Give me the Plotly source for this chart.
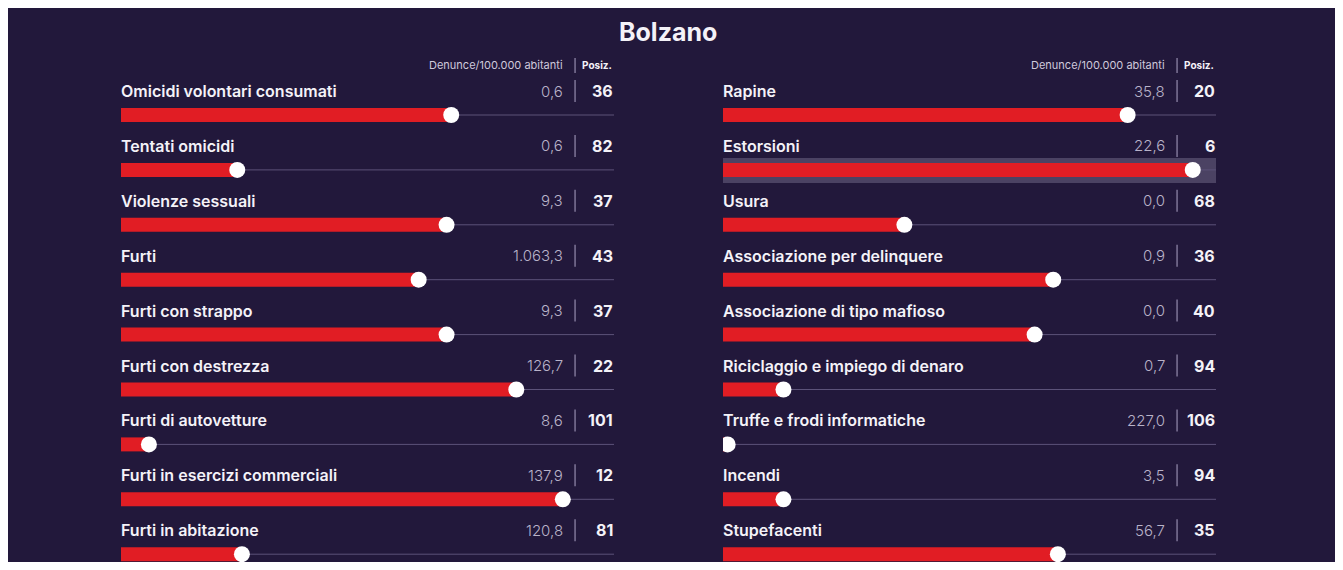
import plotly.graph_objects as go

# ---------------- data ----------------
title = "Bolzano"
header_value = "Denunce/100.000 abitanti"
header_pos = "Posiz."
n_provinces = 106

left_labels = ["Omicidi volontari consumati", "Tentati omicidi", "Violenze sessuali", "Furti",
               "Furti con strappo", "Furti con destrezza", "Furti di autovetture",
               "Furti in esercizi commerciali", "Furti in abitazione"]
left_values = [0.6, 0.6, 9.3, 1063.3, 9.3, 126.7, 8.6, 137.9, 120.8]
left_pos = [36, 82, 37, 43, 37, 22, 101, 12, 81]

right_labels = ["Rapine", "Estorsioni", "Usura", "Associazione per delinquere",
                "Associazione di tipo mafioso", "Riciclaggio e impiego di denaro",
                "Truffe e frodi informatiche", "Incendi", "Stupefacenti"]
right_values = [35.8, 22.6, 0.0, 0.9, 0.0, 0.7, 227.0, 3.5, 56.7]
right_pos = [20, 6, 68, 36, 40, 94, 106, 94, 35]

highlight = "Estorsioni"

# ---------------- style ----------------
OFF = 8                     # page body margin
W, H = 1343 - 2 * OFF, 570 - 2 * OFF
BG = "#22183b"
RED = "#e11d24"
TRACK = "#5c5279"
HL = "#4b4263"
WHITE = "#f4f2f8"
GREY = "#b9b3c9"
FONT = "Inter"
ROW_PX = 54.9
FIRST_BAR_PX = 115 - OFF


def u(px):
    return px / ROW_PX


def fmt(v):
    s = f"{v:,.1f}"
    return s.replace(",", "#").replace(".", ",").replace("#", ".")


y_top = -u(FIRST_BAR_PX)
y_bot = u(H - FIRST_BAR_PX)

fig = go.Figure()
shapes = []
annotations = []

panels = [
    (left_labels, left_values, left_pos, "x", "y"),
    (right_labels, right_values, right_pos, "x2", "y2"),
]

# dark background
shapes.append(dict(type="rect", xref="paper", yref="paper", x0=0, x1=1,
                   y0=0, y1=1, fillcolor=BG, line=dict(width=0), layer="below"))

for labels, values, pos, xa, ya in panels:
    rows = list(range(len(labels)))
    lengths = [n_provinces + 1 - p for p in pos]
    xd = xa + " domain"

    for i, lab in enumerate(labels):
        if lab == highlight:
            shapes.append(dict(type="rect", xref=xd, yref=ya, x0=0, x1=1,
                               y0=i - u(12), y1=i + u(13), fillcolor=HL,
                               line=dict(width=0), layer="below"))
        shapes.append(dict(type="line", xref=xa, yref=ya, x0=0, x1=n_provinces, y0=i, y1=i,
                           line=dict(color=TRACK, width=1), layer="below"))
        # separator
        shapes.append(dict(type="line", xref=xd, yref=ya, x0=0.921, x1=0.921,
                           y0=i - u(35), y1=i - u(13),
                           line=dict(color="#8d84a6", width=1.3)))
        annotations.append(dict(xref=xd, yref=ya, x=0, y=i, yshift=24, xshift=-2, text=lab,
                                showarrow=False, xanchor="left", yanchor="middle",
                                font=dict(family=FONT, size=16, color=WHITE, weight=600)))
        annotations.append(dict(xref=xd, yref=ya, x=0.9006, y=i, yshift=24, text=fmt(values[i]),
                                showarrow=False, xanchor="right", yanchor="middle",
                                font=dict(family=FONT, size=15, color=GREY, weight=300)))
        annotations.append(dict(xref=xd, yref=ya, x=1.0, y=i, yshift=24, xshift=1, text=str(pos[i]),
                                showarrow=False, xanchor="right", yanchor="middle",
                                font=dict(family=FONT, size=16, color=WHITE, weight=700)))

    # header
    shapes.append(dict(type="line", xref=xd, yref=ya, x0=0.921, x1=0.921,
                       y0=-u(57), y1=-u(42), line=dict(color="#8d84a6", width=1.3)))
    annotations.append(dict(xref=xd, yref=ya, x=0.9006, y=0, yshift=50, text=header_value,
                            showarrow=False, xanchor="right", yanchor="middle",
                            font=dict(family=FONT, size=11, color="#cfc9dc")))
    annotations.append(dict(xref=xd, yref=ya, x=1.0, y=0, yshift=50, text=header_pos,
                            showarrow=False, xanchor="right", yanchor="middle",
                            font=dict(family=FONT, size=10, color=WHITE, weight=700)))

    fig.add_trace(go.Bar(x=lengths, y=rows, orientation="h", base=0, width=u(14),
                         marker=dict(color=RED, line=dict(width=0)),
                         xaxis=xa, yaxis=ya, hoverinfo="skip", showlegend=False))
    fig.add_trace(go.Scatter(x=lengths, y=rows, mode="markers",
                             marker=dict(color="white", size=16, line=dict(width=0)),
                             xaxis=xa, yaxis=ya, hoverinfo="skip", showlegend=False))

annotations.append(dict(xref="paper", yref="paper", x=(668 - OFF) / W, y=1 - (32 - OFF) / H,
                        text=f"<b>{title}</b>",
                        showarrow=False, xanchor="center", yanchor="middle",
                        font=dict(family=FONT, size=25, color=WHITE)))

axis_common = dict(showgrid=False, zeroline=False, showticklabels=False, showline=False,
                   fixedrange=True, ticks="")
fig.update_layout(
    width=W, height=H,
    margin=dict(l=0, r=0, t=0, b=0),
    paper_bgcolor=BG,
    plot_bgcolor="rgba(0,0,0,0)",
    xaxis=dict(domain=[(121 - OFF) / W, (614 - OFF) / W], range=[0, n_provinces], **axis_common),
    xaxis2=dict(domain=[(723 - OFF) / W, (1216 - OFF) / W], range=[0, n_provinces], **axis_common),
    yaxis=dict(domain=[0, 1], range=[y_bot, y_top], **axis_common),
    yaxis2=dict(domain=[0, 1], range=[y_bot, y_top], anchor="x2", **axis_common),
    shapes=shapes,
    annotations=annotations,
    barmode="overlay",
    showlegend=False,
)

fig.write_html("out.html", config={"displayModeBar": False})
